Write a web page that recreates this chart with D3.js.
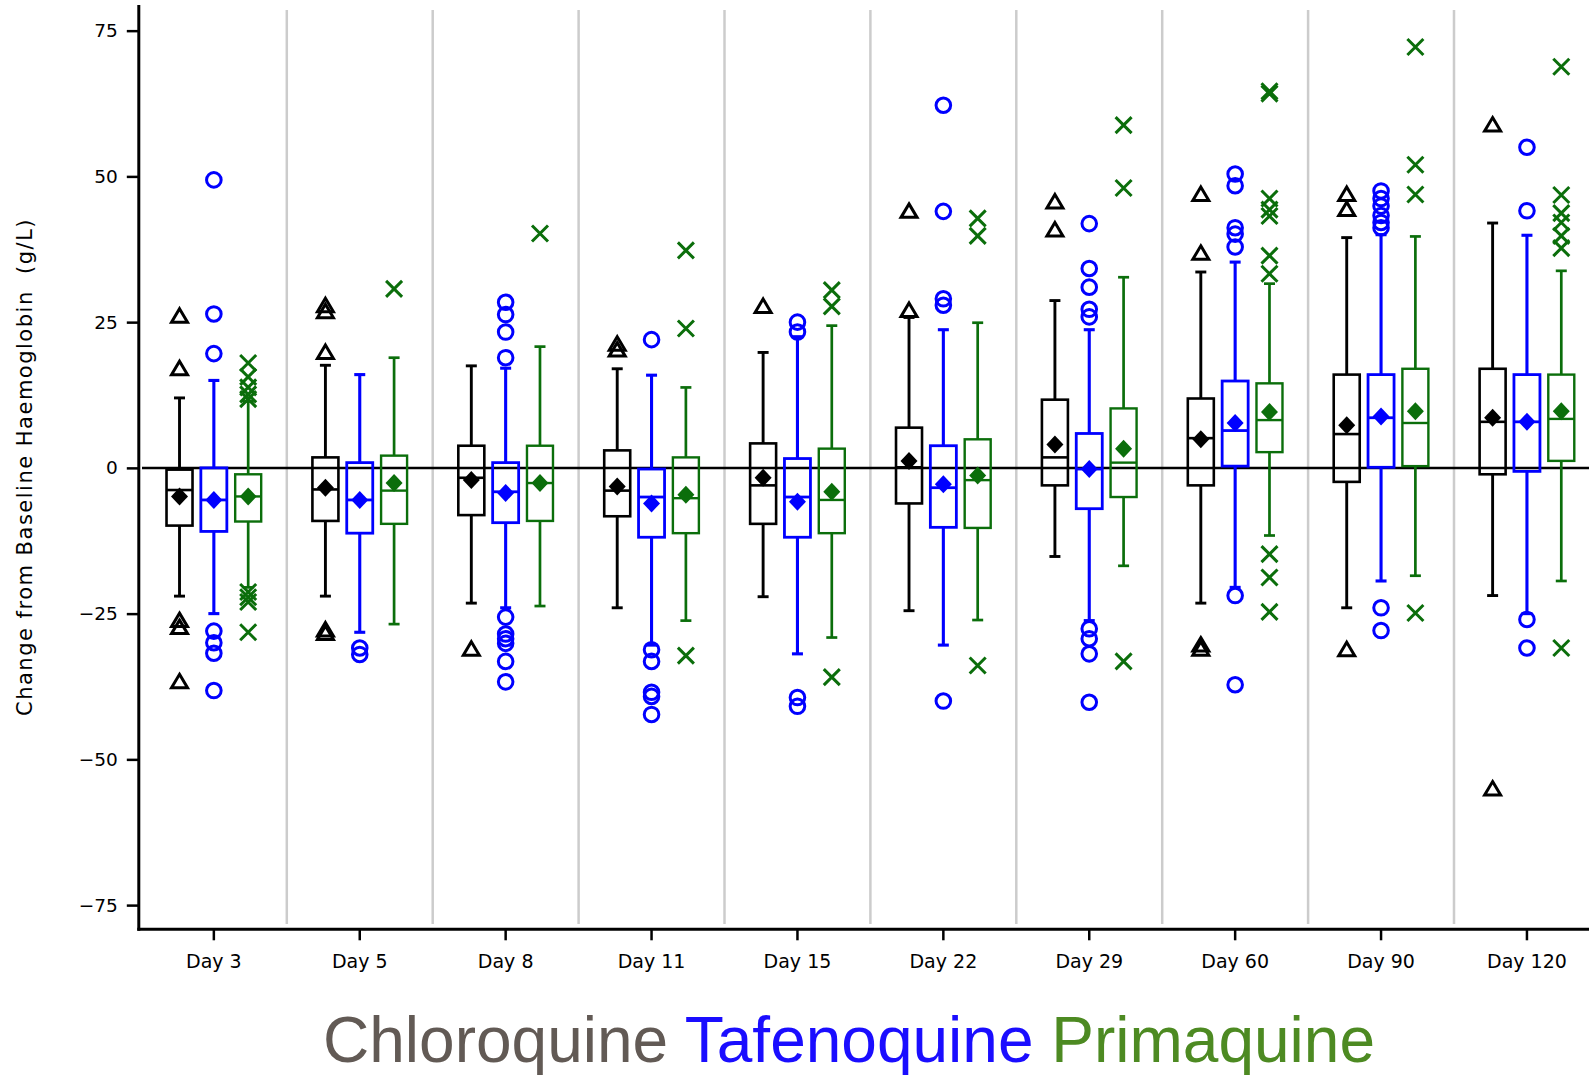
<!DOCTYPE html>
<html>
<head>
<meta charset="utf-8">
<script src="https://cdn.jsdelivr.net/npm/d3@7"></script>
<style>
  html, body { margin: 0; padding: 0; background: #fff; }
  svg { display: block; }
</style>
</head>
<body>
<div id="chart"></div>
<script>
// visit days
const days = ["Day 3", "Day 5", "Day 8", "Day 11", "Day 15", "Day 22", "Day 29", "Day 60", "Day 90", "Day 120"];
const yTicks = [-75, -50, -25, 0, 25, 50, 75];

// Chloroquine
const cqLow  = [-22, -22, -23.2, -24, -22.1, -24.5, -15.2, -23.2, -24, -21.9];
const cqQ1   = [-9.9, -9.1, -8.1, -8.3, -9.6, -6.1, -3.0, -3.0, -2.4, -1.1];
const cqMed  = [-3.8, -3.7, -1.7, -3.9, -3.0, 0.1, 1.8, 5.1, 5.8, 7.9];
const cqQ3   = [-0.3, 1.8, 3.8, 3.0, 4.2, 6.9, 11.7, 11.9, 16, 17];
const cqHigh = [12, 17.6, 17.5, 17, 19.8, 25.8, 28.7, 33.6, 39.5, 42];
const cqMean = [-4.9, -3.4, -2.1, -3.2, -1.7, 1.2, 4.0, 4.9, 7.3, 8.6];
const cqOut  = [
  [26, 17, -26.2, -27.4, -36.7],
  [27.8, 26.8, 19.8, -27.8, -28.4],
  [-31.1],
  [21.2, 20.2],
  [27.7],
  [44, 27],
  [45.6, 40.8],
  [46.9, 36.8, -30.4, -31.1],
  [46.9, 44.3, -31.2],
  [58.8, -55.1]
];

// Tafenoquine
const tqLow  = [-25, -28.2, -24, -30.4, -31.9, -30.4, -26.2, -20.5, -19.4, -25];
const tqQ1   = [-10.9, -11.2, -9.4, -11.9, -11.9, -10.2, -7.0, 0.3, 0.1, -0.6];
const tqMed  = [-5.5, -5.5, -4.1, -5, -5.0, -3.4, -0.2, 6.4, 8.6, 7.9];
const tqQ3   = [0, 0.9, 0.9, -0.2, 1.6, 3.8, 5.9, 14.9, 16, 16];
const tqHigh = [15, 16, 17.1, 15.9, 22.5, 23.7, 23.7, 35.3, 40, 39.9];
const tqMean = [-5.5, -5.5, -4.3, -6.1, -5.8, -2.8, -0.2, 7.7, 8.8, 7.9];
const tqOut  = [
  [49.4, 26.4, 19.6, -28, -30, -31.8, -38.2],
  [-30.9, -32],
  [28.4, 26.3, 23.3, 18.9, -25.6, -28.5, -29.3, -30.1, -33.2, -36.7],
  [22, -31.2, -33.2, -38.5, -39.2, -42.3],
  [25, 23.3, -39.4, -40.9],
  [62.2, 44, 29, 27.9, -40],
  [41.9, 34.2, 31, 27.2, 25.9, -27.6, -29.3, -31.9, -40.2],
  [50.4, 48.4, 41.2, 40.1, 37.9, -21.9, -37.2],
  [47.5, 46.2, 44.9, 43.3, 42.1, 41.2, -24, -27.9],
  [55, 44.1, -26, -30.9]
];

// Primaquine
const pqLow  = [-20.5, -26.8, -23.7, -26.2, -29.1, -26.1, -16.8, -11.6, -18.5, -19.4];
const pqQ1   = [-9.2, -9.6, -9.1, -11.2, -11.2, -10.3, -5.0, 2.7, 0.3, 1.2];
const pqMed  = [-4.9, -3.9, -2.6, -5.2, -5.5, -2.1, 0.9, 8.2, 7.7, 8.4];
const pqQ3   = [-1.1, 2.1, 3.8, 1.8, 3.3, 4.9, 10.2, 14.5, 17, 16];
const pqHigh = [11.4, 18.9, 20.8, 13.8, 24.4, 24.9, 32.7, 31.6, 39.7, 33.8];
const pqMean = [-4.9, -2.6, -2.6, -4.6, -4.1, -1.3, 3.3, 9.6, 9.7, 9.7];
const pqOut  = [
  [18, 15.6, 13.8, 12.6, 11.8, -21.3, -22.2, -23, -28.2],
  [30.7],
  [40.2],
  [37.3, 23.9, -32.2],
  [30.5, 27.7, -35.9],
  [42.8, 39.8, -33.9],
  [58.8, 48, -33.2],
  [64.6, 64.2, 46.2, 44.3, 43.2, 36.4, 33.3, -14.8, -18.8, -24.7],
  [72.2, 52, 46.9, -24.9],
  [68.8, 46.8, 43.7, 42.1, 39.8, 37.7, -30.9]
];

const treatments = [
  { name: "Chloroquine", color: "#000000", label: "#625a55", marker: "triangle", lw: 2.6,
    low: cqLow, q1: cqQ1, med: cqMed, q3: cqQ3, high: cqHigh, mean: cqMean, out: cqOut },
  { name: "Tafenoquine", color: "#0000ff", label: "#1a0dff", marker: "circle", lw: 2.8,
    low: tqLow, q1: tqQ1, med: tqMed, q3: tqQ3, high: tqHigh, mean: tqMean, out: tqOut },
  { name: "Primaquine", color: "#0b6e0b", label: "#4d8a22", marker: "cross", lw: 2.4,
    low: pqLow, q1: pqQ1, med: pqMed, q3: pqQ3, high: pqHigh, mean: pqMean, out: pqOut }
];

const W = 1589, H = 1078;
const svg = d3.select("#chart").append("svg")
  .attr("width", W).attr("height", H);

const axisX = 138.8;
const x = d3.scaleBand()
  .domain(days)
  .range([140.9, 140.9 + 145.9 * days.length])
  .padding(0);
const y = d3.scaleLinear()
  .domain([-79.15, 79.4])
  .range([929.3, 5]);

const offset = d3.scaleBand()
  .domain(treatments.map(d => d.name))
  .range([-51.5, 51.5]);
const boxW = 26;

// band separators
svg.append("g").selectAll("line")
  .data(days.slice(1))
  .join("line")
  .attr("x1", d => x(d)).attr("x2", d => x(d))
  .attr("y1", 10).attr("y2", 924)
  .attr("stroke", "#cccccc")
  .attr("stroke-width", 2.5);

// zero reference line
svg.append("line")
  .attr("x1", 142).attr("x2", W)
  .attr("y1", y(0)).attr("y2", y(0))
  .attr("stroke", "#000").attr("stroke-width", 2.5);

// y axis
const yAxis = svg.append("g")
  .attr("transform", `translate(${axisX},0)`)
  .call(d3.axisLeft(y).tickValues(yTicks).tickSize(12).tickPadding(9));
yAxis.select(".domain").remove();
yAxis.selectAll(".tick line").attr("stroke-width", 2.5);
yAxis.selectAll(".tick text")
  .attr("font-family", "DejaVu Sans, sans-serif")
  .attr("font-size", 18.5)
  .attr("fill", "#000");

// x axis
const xAxis = svg.append("g")
  .attr("transform", `translate(0,929.3)`)
  .call(d3.axisBottom(x).tickSize(11).tickPadding(14));
xAxis.select(".domain").remove();
xAxis.selectAll(".tick line").attr("stroke-width", 2.5);
xAxis.selectAll(".tick text")
  .attr("font-family", "DejaVu Sans, sans-serif")
  .attr("font-size", 19)
  .attr("fill", "#000");

// axis lines
svg.append("line")
  .attr("x1", axisX).attr("x2", axisX)
  .attr("y1", 5).attr("y2", 930.8)
  .attr("stroke", "#000").attr("stroke-width", 3);
svg.append("line")
  .attr("x1", axisX - 1.5).attr("x2", W)
  .attr("y1", 929.3).attr("y2", 929.3)
  .attr("stroke", "#000").attr("stroke-width", 3);

// boxes
treatments.forEach(t => {
  const g = svg.append("g").attr("class", t.name);
  const cx = i => x(days[i]) + x.bandwidth() / 2 + offset(t.name) + offset.bandwidth() / 2;
  const idx = d3.range(days.length);

  // whiskers
  g.selectAll(".wlow").data(idx).join("line")
    .attr("x1", cx).attr("x2", cx)
    .attr("y1", i => y(t.q1[i])).attr("y2", i => y(t.low[i]))
    .attr("stroke", t.color).attr("stroke-width", t.lw + 0.3);
  g.selectAll(".whigh").data(idx).join("line")
    .attr("x1", cx).attr("x2", cx)
    .attr("y1", i => y(t.q3[i])).attr("y2", i => y(t.high[i]))
    .attr("stroke", t.color).attr("stroke-width", t.lw + 0.3);
  // caps
  [t.low, t.high].forEach(arr => {
    g.append("g").selectAll("line").data(idx).join("line")
      .attr("x1", i => cx(i) - 5.5).attr("x2", i => cx(i) + 5.5)
      .attr("y1", i => y(arr[i])).attr("y2", i => y(arr[i]))
      .attr("stroke", t.color).attr("stroke-width", t.lw + 0.3);
  });

  // box
  g.append("g").selectAll("rect").data(idx).join("rect")
    .attr("x", i => cx(i) - boxW / 2)
    .attr("width", boxW)
    .attr("y", i => y(t.q3[i]))
    .attr("height", i => y(t.q1[i]) - y(t.q3[i]))
    .attr("fill", "none")
    .attr("stroke", t.color).attr("stroke-width", t.lw);
  // median
  g.append("g").selectAll("line").data(idx).join("line")
    .attr("x1", i => cx(i) - boxW / 2).attr("x2", i => cx(i) + boxW / 2)
    .attr("y1", i => y(t.med[i])).attr("y2", i => y(t.med[i]))
    .attr("stroke", t.color).attr("stroke-width", t.lw);
  // mean diamond
  g.append("g").selectAll("path").data(idx).join("path")
    .attr("d", i => {
      const px = cx(i), py = y(t.mean[i]);
      return `M${px},${py - 9}L${px + 8.5},${py}L${px},${py + 9}L${px - 8.5},${py}Z`;
    })
    .attr("fill", t.color);

  // outliers
  const pts = [];
  t.out.forEach((vals, i) => vals.forEach(v => pts.push({ i, v })));
  const og = g.append("g").selectAll("path").data(pts).join("path")
    .attr("transform", d => `translate(${cx(d.i)},${y(d.v)})`)
    .attr("fill", "none")
    .attr("stroke", t.color)
    .attr("stroke-width", 3);
  if (t.marker === "triangle") {
    og.attr("d", "M0,-7.5L8,6L-8,6Z").attr("stroke-linejoin", "miter");
  } else if (t.marker === "circle") {
    og.attr("d", "M7.3,0A7.3,7.3 0 1,1 -7.3,0A7.3,7.3 0 1,1 7.3,0Z");
  } else {
    og.attr("d", "M-8,-8L8,8M-8,8L8,-8");
  }
});

// y axis title
svg.append("text")
  .attr("transform", "translate(32,467) rotate(-90)")
  .attr("text-anchor", "middle")
  .attr("font-family", "DejaVu Sans, sans-serif")
  .attr("font-size", 21)
  .attr("letter-spacing", 1.5)
  .attr("fill", "#000")
  .style("white-space", "pre")
  .text("Change from Baseline Haemoglobin  (g/L)");

// legend line
const legend = svg.append("text")
  .attr("x", 849).attr("y", 1062)
  .attr("text-anchor", "middle")
  .attr("font-family", "Liberation Sans, Arial, sans-serif")
  .attr("font-size", 64);
treatments.forEach((t, k) => {
  legend.append("tspan")
    .attr("fill", t.label)
    .text(t.name + (k < treatments.length - 1 ? " " : ""));
});
</script>
</body>
</html>
